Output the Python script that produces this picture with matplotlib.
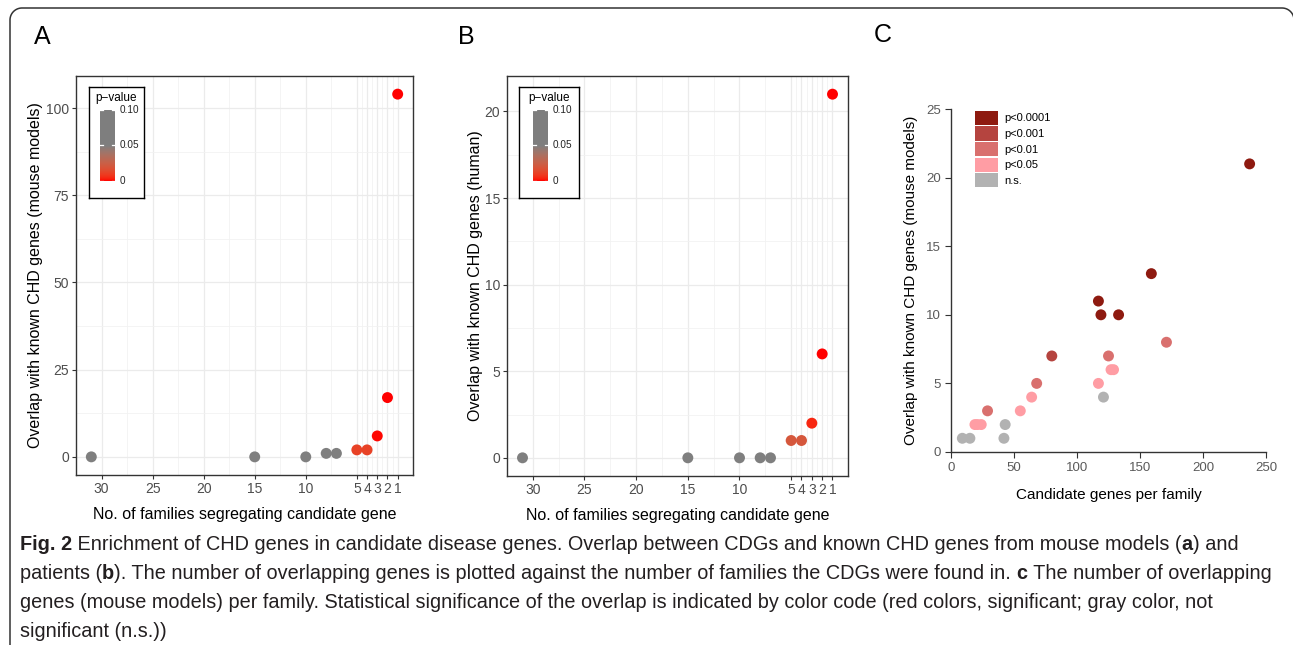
import numpy as np
import matplotlib
matplotlib.use("Agg")
import matplotlib.pyplot as plt
from matplotlib.colors import ListedColormap
from matplotlib.patches import Patch
from matplotlib.lines import Line2D
from matplotlib.transforms import IdentityTransform

W, H = 1293, 645

# ---------------------------------------------------------------------------
# Data
# ---------------------------------------------------------------------------
# A: overlap with known CHD genes from mouse models
families_a = [31, 15, 10, 8, 7, 5, 4, 3, 2, 1]
overlap_a = [0, 0, 0, 1, 1, 2, 2, 6, 17, 104]
pvalue_a = [0.1, 0.1, 0.1, 0.1, 0.1, 0.011, 0.011, 0.0005, 0.0, 0.0]

# B: overlap with known CHD genes from human patients
families_b = [31, 15, 10, 8, 7, 5, 4, 3, 2, 1]
overlap_b = [0, 0, 0, 0, 0, 1, 1, 2, 6, 21]
pvalue_b = [0.1, 0.1, 0.1, 0.1, 0.1, 0.02, 0.02, 0.004, 0.0, 0.0]

fam_ticks = [30, 25, 20, 15, 10, 5, 4, 3, 2, 1]
fam_minor = [27.5, 22.5, 17.5, 12.5, 7.5, 4.5, 3.5, 2.5, 1.5]

# C: candidate genes per family vs overlap
genes_c = [237, 159, 117, 119, 133, 80, 125, 171, 68, 29,
           127, 129, 117, 64, 55, 19, 21, 24, 121, 43, 42, 9, 15]
overlap_c = [21, 13, 11, 10, 10, 7, 7, 8, 5, 3,
             6, 6, 5, 4, 3, 2, 2, 2, 4, 2, 1, 1, 1]
signif_c = (["p<0.0001"] * 5 + ["p<0.001"] + ["p<0.01"] * 4
            + ["p<0.05"] * 8 + ["n.s."] * 5)
signif_levels = ["p<0.0001", "p<0.001", "p<0.01", "p<0.05", "n.s."]
signif_colors = ["#8E1A10", "#B5443F", "#D9706E", "#FF9DA4", "#B2B2B2"]

# ---------------------------------------------------------------------------
# red -> grey50 gradient interpolated in Lab (like ggplot), grey above 0.05
# ---------------------------------------------------------------------------
M = np.array([[0.4124, 0.3576, 0.1805],
              [0.2126, 0.7152, 0.0722],
              [0.0193, 0.1192, 0.9505]])
WHITE = np.array([0.95047, 1.0, 1.08883])


def to_lab(rgb):
    rgb = np.asarray(rgb, float)
    lin = np.where(rgb <= 0.04045, rgb / 12.92, ((rgb + 0.055) / 1.055) ** 2.4)
    xyz = M @ lin / WHITE
    f = np.where(xyz > 0.008856, np.cbrt(xyz), 7.787 * xyz + 16 / 116)
    return np.array([116 * f[1] - 16, 500 * (f[0] - f[1]), 200 * (f[1] - f[2])])


def from_lab(lab):
    L, a, b = lab
    fy = (L + 16) / 116
    f = np.array([fy + a / 500, fy, fy - b / 200])
    xyz = np.where(f ** 3 > 0.008856, f ** 3, (f - 16 / 116) / 7.787) * WHITE
    lin = np.linalg.solve(M, xyz)
    lin = np.clip(lin, 0, None)
    rgb = np.where(lin <= 0.0031308, 12.92 * lin, 1.055 * lin ** (1 / 2.4) - 0.055)
    return np.clip(rgb, 0, 1)


red_lab = to_lab([1, 0, 0])
grey_lab = to_lab([0.498, 0.498, 0.498])
ramp = [from_lab(red_lab + (grey_lab - red_lab) * t) for t in np.linspace(0, 1, 128)]
PCMAP = ListedColormap(ramp + [from_lab(grey_lab)] * 128)

# ---------------------------------------------------------------------------
FONT = ["Liberation Sans", "DejaVu Sans"]
plt.rcParams["font.family"] = FONT

fig = plt.figure(figsize=(W / 100, H / 100), dpi=100)


def rect(l, t, r, b):
    return [l / W, 1 - b / H, (r - l) / W, (b - t) / H]


def family_panel(box, fams, vals, pvals, ylim, yticks, yminor, ylabel, legbox, barbox, ypad):
    ax = fig.add_axes(rect(*box))
    ax.scatter(fams, vals, c=pvals, cmap=PCMAP, vmin=0, vmax=0.1, s=62,
               linewidths=0, zorder=3)
    ax.set_xlim(32.5, -0.5)
    ax.set_ylim(*ylim)
    ax.set_xticks(fam_ticks)
    ax.set_xticks(fam_minor, minor=True)
    ax.set_yticks(yticks)
    ax.set_yticks(yminor, minor=True)
    ax.grid(True, which="major", color="#EBEBEB", lw=0.9, zorder=0)
    ax.grid(True, which="minor", color="#F2F2F2", lw=0.6, zorder=0)
    ax.set_axisbelow(True)
    ax.tick_params(which="major", length=3, color="#333333", labelcolor="#4D4D4D",
                   labelsize=10, pad=2)
    ax.tick_params(which="minor", length=0)
    for sp in ax.spines.values():
        sp.set_color("#333333")
        sp.set_linewidth(1.0)
    ax.set_xlabel("No. of families segregating candidate gene", fontsize=11.5, labelpad=8)
    ax.set_ylabel(ylabel, fontsize=11.5, labelpad=ypad)

    # p-value legend box with colorbar
    lax = fig.add_axes(rect(*legbox))
    lax.set_xticks([])
    lax.set_yticks([])
    for sp in lax.spines.values():
        sp.set_color("black")
        sp.set_linewidth(1.0)
    lax.text(0.5, 0.9, "p\u2212value", transform=lax.transAxes, ha="center",
             va="center", fontsize=8.5)
    cax = fig.add_axes(rect(*barbox))
    grad = np.linspace(0, 0.1, 200).reshape(-1, 1)
    cax.imshow(grad, cmap=PCMAP, vmin=0, vmax=0.1, origin="lower", aspect="auto",
               extent=[0, 1, 0, 0.1])
    for v in [0, 0.05, 0.1]:
        cax.plot([0, 0.2], [v, v], color="white", lw=0.9)
        cax.plot([0.8, 1], [v, v], color="white", lw=0.9)
    cax.set_xlim(0, 1)
    cax.set_ylim(-0.0015, 0.1015)
    cax.axis("off")
    for v, lab in [(0.1, "0.10"), (0.05, "0.05"), (0, "0")]:
        cax.text(1.3, v, lab, fontsize=7.2, va="center", ha="left", color="#222222")
    return ax


family_panel((76, 76, 413, 475), families_a, overlap_a, pvalue_a, (-5.2, 109.2),
             [0, 25, 50, 75, 100], [12.5, 37.5, 62.5, 87.5],
             "Overlap with known CHD genes (mouse models)",
             (89, 87, 144, 198), (100, 109, 115, 182), 2)
family_panel((507, 76, 848, 476), families_b, overlap_b, pvalue_b, (-1.05, 22.05),
             [0, 5, 10, 15, 20], [2.5, 7.5, 12.5, 17.5],
             "Overlap with known CHD genes (human)",
             (519, 87, 579, 198), (533, 109, 548, 182), 1)

# ---- C
axc = fig.add_axes(rect(951, 109, 1266, 452))
cols = [signif_colors[signif_levels.index(s)] for s in signif_c]
axc.scatter(genes_c, overlap_c, c=cols, s=62, linewidths=0, clip_on=False, zorder=3)
axc.set_xlim(0, 250)
axc.set_ylim(0, 25)
axc.set_xticks([0, 50, 100, 150, 200, 250])
axc.set_yticks([0, 5, 10, 15, 20, 25])
for s in ["top", "right"]:
    axc.spines[s].set_visible(False)
for s in ["left", "bottom"]:
    axc.spines[s].set_color("#333333")
    axc.spines[s].set_linewidth(1.0)
axc.tick_params(length=4, color="#333333", labelcolor="#5A5A5A", labelsize=9.5, pad=3)
axc.set_xlabel("Candidate genes per family", fontsize=11, labelpad=10)
axc.set_ylabel("Overlap with known CHD genes (mouse models)", fontsize=11, labelpad=6)
handles = [Patch(facecolor=c, edgecolor="none", label=l)
           for l, c in zip(signif_levels, signif_colors)]
axc.legend(handles=handles, loc="upper left", bbox_to_anchor=(0.062, 1.008),
           frameon=False, fontsize=8, handlelength=2.1, handleheight=1.6,
           labelspacing=0.12, handletextpad=0.55, borderaxespad=0)

# ---- panel letters
for x, y, s in [(42, 37, "A"), (466, 37, "B"), (883, 35, "C")]:
    fig.text(x / W, 1 - y / H, s, fontsize=18, ha="center", va="center")

# ---- outer frame: left side, top, two rounded corners (pixel coords, y up)
r = 12
top = H - 8
left, right = 10, 1294
a1 = np.linspace(np.pi, np.pi / 2, 20)
a2 = np.linspace(np.pi / 2, 0, 20)
fx = np.concatenate([[left], left + r + r * np.cos(a1), right - r + r * np.cos(a2), [right]])
fy = np.concatenate([[-5], top - r + r * np.sin(a1), top - r + r * np.sin(a2), [top - 2 * r]])
fig.add_artist(Line2D(fx, fy, transform=IdentityTransform(), color="#333333",
                      lw=1.1, solid_capstyle="butt"))

# ---- caption
CAP_FONT = ["Liberation Sans", "DejaVu Sans"]
caption = [
    [("Fig. 2", True), (" Enrichment of CHD genes in candidate disease genes. Overlap between "
                        "CDGs and known CHD genes from mouse models (", False),
     ("a", True), (") and", False)],
    [("patients (", False), ("b", True), ("). The number of overlapping genes is plotted against "
                                          "the number of families the CDGs were found in. ", False),
     ("c", True), (" The number of overlapping", False)],
    [("genes (mouse models) per family. Statistical significance of the overlap is indicated by "
      "color code (red colors, significant; gray color, not", False)],
    [("significant (n.s.))", False)],
]
renderer = fig.canvas.get_renderer()
for i, runs in enumerate(caption):
    x = 20
    y = 550 + 29 * i
    for s, bold in runs:
        t = fig.text(x / W, 1 - y / H, s, fontsize=14.3, family=CAP_FONT,
                     fontweight="bold" if bold else "normal", va="baseline",
                     color="#231F20")
        x += t.get_window_extent(renderer=renderer).width

fig.savefig("out.png", dpi=100)
